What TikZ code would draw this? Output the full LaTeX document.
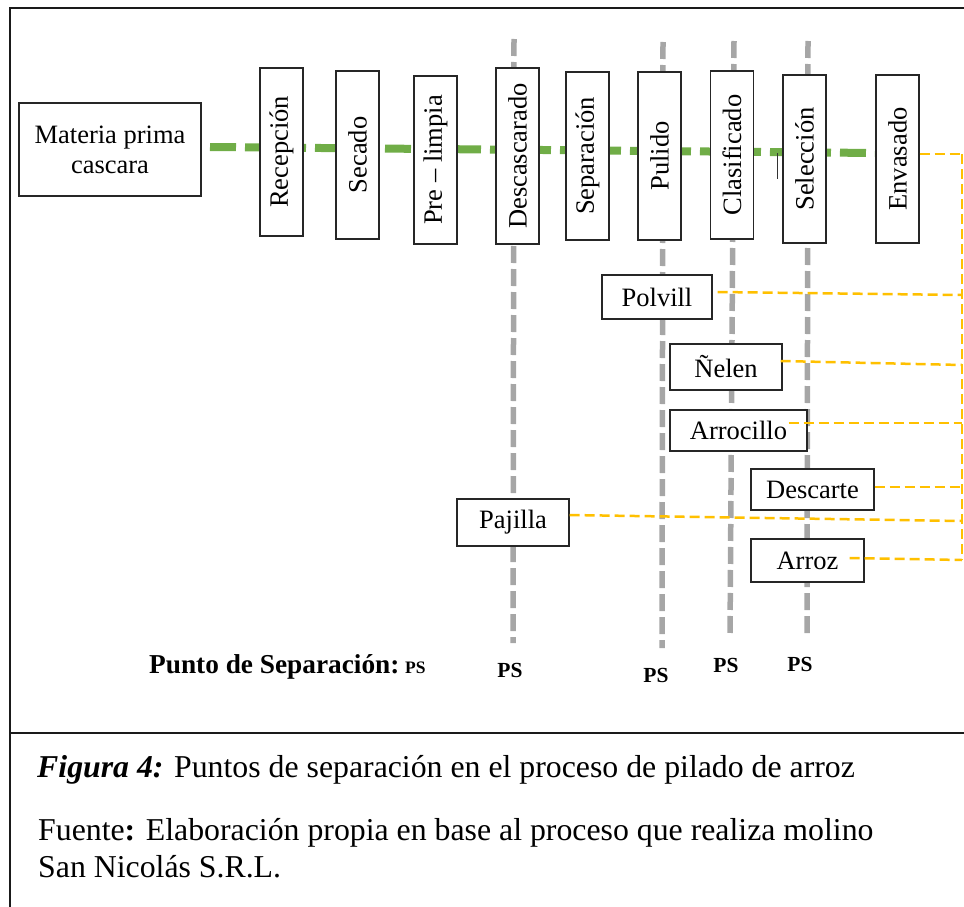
\documentclass[tikz,border=0pt]{standalone}
\usepackage{fontspec}
\setmainfont{Liberation Serif}
\usetikzlibrary{backgrounds}
\definecolor{flowgreen}{HTML}{70AD47}
\definecolor{psgray}{HTML}{A6A6A6}
\definecolor{outorange}{HTML}{FFC000}
\definecolor{frameblack}{HTML}{1A1A1A}
\tikzset{
  boxtext/.style={font=\rmfamily\fontsize{26.5}{30}\selectfont},
  procbox/.style={draw=black!85, line width=1.3pt, fill=white, inner sep=0pt,
    minimum width=43pt, minimum height=168pt, boxtext},
  outbox/.style={draw=black!85, line width=1.3pt, fill=white, inner sep=0pt, boxtext},
  flowline/.style={draw=flowgreen, line width=8pt, dash pattern=on 26pt off 9pt},
  psline/.style={draw=psgray, line width=5.5pt, dash pattern=on 17pt off 6pt},
  outline/.style={draw=outorange, line width=2.5pt, dash pattern=on 10pt off 5pt},
  pslabel/.style={font=\rmfamily\bfseries\fontsize{21.5}{24}\selectfont, anchor=base, inner sep=0pt},
  captext/.style={font=\rmfamily\fontsize{31.8}{36}\selectfont, anchor=base west, inner sep=0pt}
}
\begin{document}
\begin{tikzpicture}[x=1pt,y=-1pt]
\useasboundingbox (0,0) rectangle (964,907);

% frame
\draw[frameblack, line width=2pt] (10,907) -- (10,8) -- (964,8);
\draw[frameblack, line width=2pt] (10,733) -- (964,733);

% process chain
\node[outbox, minimum width=182pt, minimum height=93pt, align=center] (mp) at (110,149.5)
  {Materia prima\\cascara};
\node[procbox] (rec) at (281.5,152) {\rotatebox{90}{Recepción}};
\node[procbox] (sec) at (357.5,155) {\rotatebox{90}{Secado}};
\node[procbox] (pre) at (435.5,160) {\rotatebox{90}{Pre -- limpia}};
\node[procbox, minimum height=176pt] (des) at (517.5,156) {\rotatebox{90}{Descascarado}};
\node[procbox] (sep) at (587.5,156) {\rotatebox{90}{Separación}};
\node[procbox] (pul) at (659.5,156) {\rotatebox{90}{Pulido}};
\node[procbox] (cla) at (732,155) {\rotatebox{90}{Clasificado}};
\node[procbox] (sel) at (804.5,159) {\rotatebox{90}{Selección}};
\node[procbox] (env) at (897.5,159) {\rotatebox{90}{Envasado}};

% by-products and product
\node[outbox, minimum width=110pt, minimum height=44pt] (pol) at (657,297) {Polvill};
\node[outbox, minimum width=112pt, minimum height=46pt] (nel) at (726,367) {Ñelen};
\node[outbox, minimum width=137pt, minimum height=41pt] (arc) at (738.5,430.5) {Arrocillo};
\node[outbox, minimum width=123pt, minimum height=41pt] (dsc) at (812.5,489.5) {Descarte};
\node[outbox, minimum width=112pt, minimum height=47pt] (paj) at (513,522.5) {Pajilla};
\node[outbox, minimum width=113pt, minimum height=43pt] (arz) at (807.5,560.5) {Arroz};

% separation point lines and main flow, behind the boxes
\coordinate (g0) at (210,147);
\coordinate (p1a) at (514,39);  \coordinate (p1b) at (513,643);
\coordinate (p2a) at (663,42);  \coordinate (p2b) at (662,648);
\coordinate (p3a) at (734,41);  \coordinate (p3b) at (730,638);
\coordinate (p4a) at (808,41);  \coordinate (p4b) at (807,635);
\begin{scope}[on background layer]
  \draw[psline] (p1a) -- (p1b);
  \draw[psline] (p2a) -- (p2b);
  \draw[psline] (p3a) -- (p3b);
  \draw[psline] (p4a) -- (p4b);
  \draw[flowline] (g0) -- ([yshift=6pt]env.west);
\end{scope}

% small tick between Clasificado and Selección
\coordinate (t0) at (777,153);
\coordinate (t1) at (777,179);
\draw[black!80, line width=1pt] (t0) -- (t1);

% collecting line on the right
\coordinate (bt) at (962,154);
\coordinate (b1) at (962,295);
\coordinate (b2) at (962,365);
\coordinate (b3) at (962,423);
\coordinate (b4) at (962,487);
\coordinate (b5) at (962,521);
\coordinate (b6) at (962,560);
\draw[outline] ([yshift=5pt]env.east) -- (bt);
\draw[outline] (bt) -- (b6);
\draw[outline] ([xshift=5pt,yshift=5pt]pol.east) -- (b1);
\draw[outline] ([xshift=-2pt,yshift=6pt]nel.east) -- (b2);
\draw[outline] ([xshift=-19pt,yshift=7.5pt]arc.east) -- (b3);
\draw[outline] ([yshift=2.5pt]dsc.east) -- (b4);
\draw[outline] ([yshift=7.5pt]paj.east) -- (b5);
\draw[outline] ([xshift=-15pt,yshift=2.5pt]arz.east) -- (b6);

% separation point labels
\node[anchor=base west, inner sep=0pt, font=\rmfamily\bfseries\fontsize{27.3}{30}\selectfont] (pslab) at (149,673)
  {Punto de Separación:};
\node[anchor=base west, inner sep=0pt, font=\rmfamily\bfseries\fontsize{17.5}{20}\selectfont] (pskey) at (405,673) {PS};
\node[pslabel] (ps1) at (510,677) {PS};
\node[pslabel] (ps2) at (656,682) {PS};
\node[pslabel] (ps3) at (726,672) {PS};
\node[pslabel] (ps4) at (800,671) {PS};

% caption
\node[captext] (cap1) at (37,777)
  {\textbf{\textit{Figura 4:}} Puntos de separación en el proceso de pilado de arroz};
\node[captext] (cap2) at (38,840)
  {Fuente\textbf{:} Elaboración propia en base al proceso que realiza molino};
\node[captext] (cap3) at (38,877) {San Nicolás S.R.L.};
\end{tikzpicture}
\end{document}
